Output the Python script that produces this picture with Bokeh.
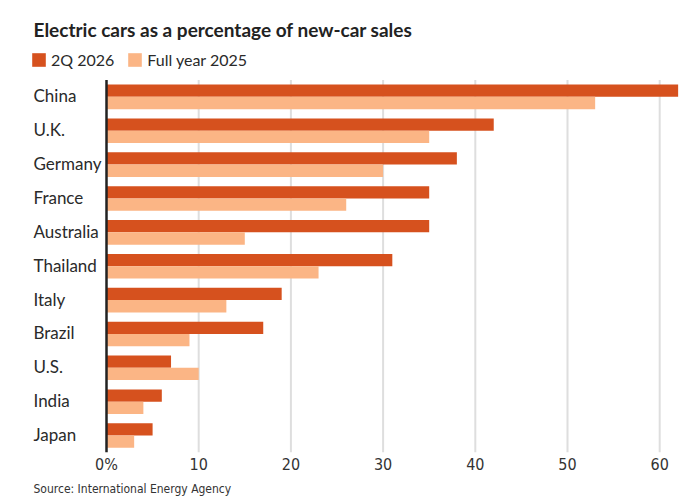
from bokeh.plotting import figure
from bokeh.models import (Range1d, FixedTicker, LabelSet, Label, Title,
                          Legend, LegendItem, ColumnDataSource)
from bokeh.core.properties import value
from bokeh.embed import file_html
from bokeh.resources import INLINE

# ---- data ----
countries = ["China", "U.K.", "Germany", "France", "Australia", "Thailand",
             "Italy", "Brazil", "U.S.", "India", "Japan"]
q2_2026 = [62, 42, 38, 35, 35, 31, 19, 17, 7, 6, 5]
fy_2025 = [53, 35, 30, 26, 15, 23, 13, 9, 10, 4, 3]
x_ticks = [0, 10, 20, 30, 40, 50, 60]
x_tick_labels = ["0%", "10", "20", "30", "40", "50", "60"]
series_names = ["2Q 2026", "Full year 2025"]
title_text = "Electric cars as a percentage of new-car sales"
source_text = "Source: International Energy Agency"

DARK = "#d6511e"
LIGHT = "#fbb585"
TEXT = "#2a2a2a"
NARROW = "DejaVu Sans Condensed"

n = len(countries)
ypos = [n - 1 - i for i in range(n)]          # China on top
BAR_H = 0.363
src = ColumnDataSource(dict(country=countries, q2=q2_2026, fy=fy_2025,
                            y=ypos,
                            y_dark=[v + BAR_H / 2 for v in ypos],
                            y_light=[v - BAR_H / 2 for v in ypos],
                            zero=[0] * n))

W, H = 698, 502
ROW_PX = 33.87
FRAME_H = 452
FRAME_W = 680
PX_PER_X = 9.22
ZERO_PX = 106
p = figure(width=W, height=H,
           x_range=Range1d(-ZERO_PX / PX_PER_X, (FRAME_W - ZERO_PX) / PX_PER_X),
           y_range=Range1d(-0.5, -0.5 + FRAME_H / ROW_PX),
           y_axis_location=None,
           output_backend="svg", toolbar_location=None,
           min_border_left=0, min_border_right=W - FRAME_W,
           min_border_top=0, min_border_bottom=H - FRAME_H)
p.outline_line_color = None
p.background_fill_color = "white"
p.xgrid.grid_line_color = None
p.ygrid.grid_line_color = None

# grid lines (from tick values), only over the bar area
grid_ticks = x_ticks[1:]
p.segment(x0=grid_ticks, x1=grid_ticks, y0=[-0.5] * len(grid_ticks),
          y1=[n - 0.5] * len(grid_ticks), line_color="#dedede", line_width=2)

r1 = p.hbar(y="y_dark", left=0, right="q2", height=BAR_H, color=DARK,
            line_color=None, source=src)
r2 = p.hbar(y="y_light", left=0, right="fy", height=BAR_H, color=LIGHT,
            line_color=None, source=src)
# zero line on top of bars
p.segment(x0=[0], x1=[0], y0=[-0.5], y1=[n - 0.5], line_color="#222222",
          line_width=2.5)

# x axis
xa = p.xaxis[0]
xa.ticker = FixedTicker(ticks=x_ticks)
xa.major_label_overrides = {t: l for t, l in zip(x_ticks, x_tick_labels)}
xa.axis_line_color = None
xa.major_tick_line_color = None
xa.minor_tick_line_color = None
xa.major_label_standoff = -4
xa.major_label_text_font = NARROW
xa.major_label_text_font_size = "16px"
xa.major_label_text_color = "#333333"

# country labels
labels = LabelSet(x="zero", y="y", text="country", source=src,
                  x_offset=-73, y_offset=1, text_align="left",
                  text_baseline="middle", text_font=value("Lato"),
                  text_font_size=value("17px"), text_color=TEXT)
p.add_layout(labels)

# legend
legend = Legend(items=[LegendItem(label=series_names[0], renderers=[r1]),
                       LegendItem(label=series_names[1], renderers=[r2])],
                location=(30, 383), orientation="horizontal",
                padding=0, margin=0, spacing=12, glyph_width=17,
                glyph_height=17, label_standoff=4, label_height=14,
                label_text_font="Lato", label_text_font_size="16px",
                label_text_color=TEXT, border_line_color=None,
                background_fill_alpha=0)
p.add_layout(legend)

p.add_layout(Label(x=33, x_units="screen", y=FRAME_H - 29, y_units="screen",
                   text=title_text, text_baseline="alphabetic",
                   text_font="Lato", text_font_style="bold",
                   text_font_size="19px", text_color="#222222"))

p.add_layout(Title(text=source_text, align="left", offset=33, standoff=7,
                   text_font=NARROW, text_font_style="normal",
                   text_font_size="12px", text_color="#333333"), "below")

open("out.html", "w").write(file_html(p, INLINE))
